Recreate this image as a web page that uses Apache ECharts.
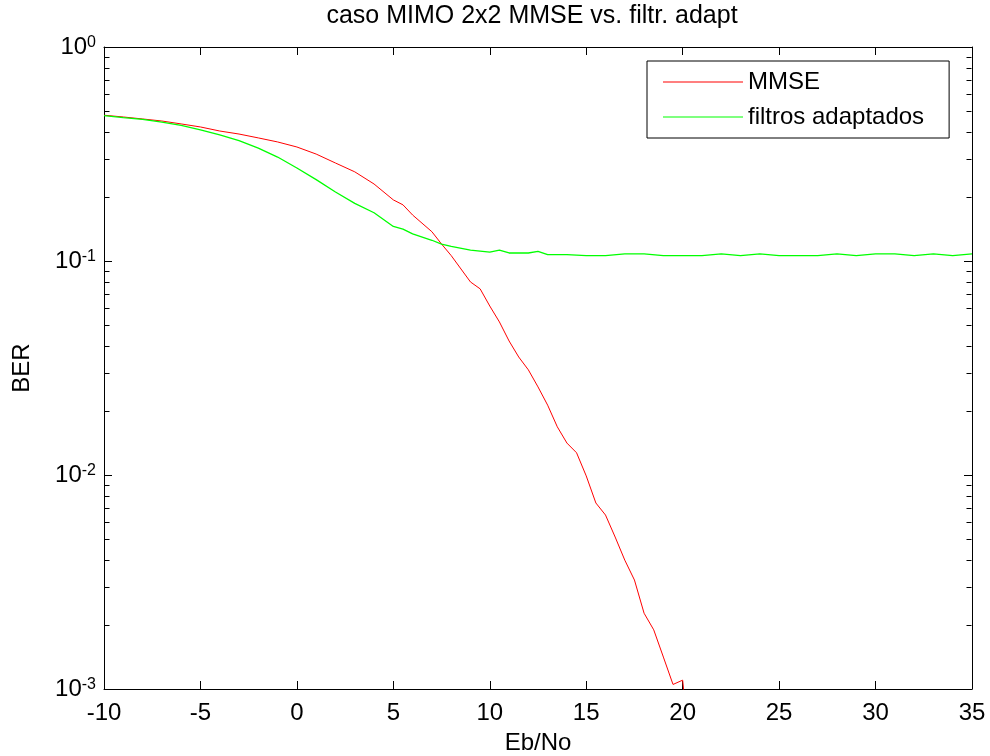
<!DOCTYPE html>
<html><head><meta charset="utf-8">
<script src="https://cdn.jsdelivr.net/npm/echarts@6/dist/echarts.min.js"></script>
<style>html,body{margin:0;padding:0;background:#fff}#c{width:990px;height:756px}</style>
</head><body><div id="c"></div>
<script>
const titleText = 'caso MIMO 2x2 MMSE vs. filtr. adapt';
const xName = 'Eb/No';
const yName = 'BER';
const seriesNames = ['MMSE', 'filtros adaptados'];
const xMin = -10, xMax = 35, xStep = 5;
const yMin = 0.001, yMax = 1;

const mmseX = [-10,-9,-8,-7,-6,-5,-4,-3,-2,-1,0,1,2,3,4,5,5.5,6,7,7.5,8,9,9.5,10,10.5,11,11.5,12,12.5,13,13.5,14,14.5,15,15.5,16,16.5,17,17.5,18,18.5,19,19.5,20,20.5];
const mmseY = [0.480,0.471,0.461,0.451,0.437,0.423,0.405,0.392,0.376,0.360,0.341,0.316,0.287,0.261,0.229,0.193,0.183,0.164,0.137,0.120,0.106,0.0798,0.0741,0.0616,0.0519,0.0423,0.0356,0.031,0.0258,0.0212,0.0168,0.0141,0.0127,0.0099,0.0074,0.0065,0.00513,0.0040,0.00323,0.00226,0.00189,0.00141,0.00105,0.0011,0.0004];

const adaptX = [-10,-9,-8,-7,-6,-5,-4,-3,-2,-1,0,1,2,3,4,5,5.5,6,7,7.5,8,9,10,10.5,11,12,12.5,13,14,15,16,17,18,19,20,21,22,23,24,25,26,27,28,29,30,31,32,33,34,35];
const adaptY = [0.478,0.468,0.459,0.446,0.430,0.410,0.388,0.365,0.337,0.306,0.272,0.240,0.210,0.186,0.168,0.145,0.141,0.134,0.125,0.120,0.117,0.1125,0.110,0.1125,0.109,0.109,0.111,0.107,0.107,0.106,0.106,0.108,0.108,0.106,0.106,0.106,0.108,0.106,0.108,0.106,0.106,0.106,0.108,0.106,0.108,0.108,0.106,0.108,0.106,0.108];

// minor tick values of the log axis (2..9 x 10^k)
const minorTicks = [];
for (let k = -3; k < 0; k++) for (let m = 2; m <= 9; m++) minorTicks.push(m * Math.pow(10, k));

const FONT = '"Liberation Sans", Arial, sans-serif';
const chart = echarts.init(document.getElementById('c'), null, {renderer: 'canvas'});

const supLabel = v => '{b|10}{s|' + Math.round(Math.log10(v)) + '}';

const option = {
  animation: false,
  backgroundColor: '#fff',
  textStyle: {fontFamily: FONT, color: '#000'},
  title: {
    text: titleText, left: 532, textAlign: 'center', top: 4, padding: 0,
    textStyle: {fontFamily: FONT, fontSize: 25, fontWeight: 'normal', color: '#000'}
  },
  grid: {left: 104, right: 18, top: 47, bottom: 67, containLabel: false, outerBoundsMode: 'none'},
  legend: {
    data: seriesNames.map(n => ({name: n, icon: 'rect'})),
    orient: 'vertical', left: 647, top: 61,
    padding: [9, 25, 9, 16], itemGap: 11, itemWidth: 80, itemHeight: 1, itemTextGap: 15,
    borderColor: '#000', borderWidth: 1, backgroundColor: '#fff', borderRadius: 0,
    textStyle: {fontFamily: FONT, fontSize: 24, lineHeight: 24, color: '#000'}
  },
  xAxis: [{
    type: 'value', min: xMin, max: xMax, interval: xStep, position: 'bottom',
    name: xName, nameLocation: 'middle', nameGap: 42,
    nameTextStyle: {fontFamily: FONT, fontSize: 24, color: '#000'},
    axisLine: {show: true, onZero: false, lineStyle: {color: '#000', width: 1}},
    axisTick: {show: true, inside: true, length: 8, lineStyle: {color: '#000'}},
    axisLabel: {show: true, margin: 12, fontFamily: FONT, fontSize: 24, color: '#000'},
    splitLine: {show: false}
  }, {
    type: 'value', min: xMin, max: xMax, interval: xStep, position: 'top',
    axisLine: {show: true, onZero: false, lineStyle: {color: '#000', width: 1}},
    axisTick: {show: true, inside: true, length: 8, lineStyle: {color: '#000'}},
    axisLabel: {show: false}, splitLine: {show: false}
  }],
  yAxis: [{
    type: 'log', logBase: 10, min: yMin, max: yMax, position: 'left',
    name: yName, nameLocation: 'middle', nameGap: 70, nameRotate: 90,
    nameTextStyle: {fontFamily: FONT, fontSize: 24, color: '#000'},
    axisLine: {show: true, onZero: false, lineStyle: {color: '#000', width: 1}},
    axisTick: {show: true, inside: true, length: 8, lineStyle: {color: '#000'}},
    axisLabel: {
      show: true, margin: 8, formatter: supLabel,
      rich: {
        b: {fontFamily: FONT, fontSize: 24, color: '#000', verticalAlign: 'bottom', lineHeight: 24},
        s: {fontFamily: FONT, fontSize: 16, color: '#000', verticalAlign: 'top', lineHeight: 16, padding: [0, 0, 14, 0]}
      }
    },
    splitLine: {show: false}
  }, {
    type: 'log', logBase: 10, min: yMin, max: yMax, position: 'right',
    axisLine: {show: true, onZero: false, lineStyle: {color: '#000', width: 1}},
    axisTick: {show: true, inside: true, length: 8, lineStyle: {color: '#000'}},
    axisLabel: {show: false}, splitLine: {show: false}
  }],
  series: [{
    name: seriesNames[0], type: 'line', xAxisIndex: 0, yAxisIndex: 0,
    data: mmseX.map((x, i) => [x, mmseY[i]]),
    symbol: 'none', showSymbol: false, clip: true,
    lineStyle: {color: '#ff0000', width: 1}, itemStyle: {color: '#ff0000'}
  }, {
    name: seriesNames[1], type: 'line', xAxisIndex: 0, yAxisIndex: 0,
    data: adaptX.map((x, i) => [x, adaptY[i]]),
    symbol: 'none', showSymbol: false, clip: true,
    lineStyle: {color: '#00ff00', width: 1.3}, itemStyle: {color: '#00ff00'}
  }, {
    name: 'minorTicks', type: 'custom', xAxisIndex: 0, yAxisIndex: 0, silent: true, clip: false,
    data: minorTicks.map(v => [xMin, v]),
    renderItem: (params, api) => {
      const v = api.value(1);
      const pL = api.coord([xMin, v]);
      const pR = api.coord([xMax, v]);
      const y = Math.round(pL[1]) + 0.5;
      const xl = Math.round(pL[0]) + 0.5, xr = Math.round(pR[0]) - 0.5;
      return {type: 'group', children: [
        {type: 'line', shape: {x1: xl, y1: y, x2: xl + 5, y2: y}, style: {stroke: '#000', lineWidth: 1}},
        {type: 'line', shape: {x1: xr, y1: y, x2: xr - 5, y2: y}, style: {stroke: '#000', lineWidth: 1}}
      ]};
    }
  }]
};
chart.setOption(option);
</script>
</body></html>
